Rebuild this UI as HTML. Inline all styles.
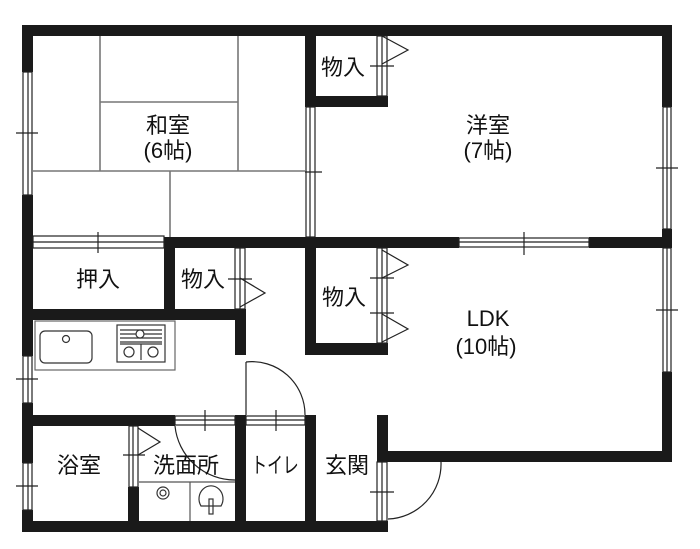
<!DOCTYPE html>
<html><head><meta charset="utf-8"><style>
html,body{margin:0;padding:0;background:#fff;}
svg{display:block;}
text{font-family:"Liberation Sans","Noto Sans CJK JP",sans-serif;fill:#111;}
</style></head><body>
<svg width="700" height="549" viewBox="0 0 700 549" xmlns="http://www.w3.org/2000/svg">
<rect width="700" height="549" fill="#fff"/>
<!-- tatami lines -->
<g stroke="#777" stroke-width="1.6" fill="none">
<line x1="100" y1="36" x2="100" y2="171"/>
<line x1="238" y1="36" x2="238" y2="171"/>
<line x1="100" y1="102" x2="238" y2="102"/>
<line x1="33" y1="171" x2="305" y2="171"/>
<line x1="170" y1="171" x2="170" y2="237"/>
</g>
<!-- walls -->
<g fill="#1a1a1a">
<rect x="22" y="25" width="650" height="11"/>
<rect x="22" y="25" width="11" height="47"/>
<rect x="22" y="195" width="11" height="161"/>
<rect x="22" y="403" width="11" height="60"/>
<rect x="22" y="510" width="11" height="22"/>
<rect x="22" y="521" width="366" height="11"/>
<rect x="662" y="25" width="10" height="82"/>
<rect x="662" y="229" width="10" height="19"/>
<rect x="662" y="372" width="10" height="90"/>
<rect x="377" y="451" width="295" height="11"/>
<rect x="377" y="415" width="11" height="47"/>
<rect x="305" y="25" width="11" height="82"/>
<rect x="305" y="96" width="83" height="11"/>
<rect x="164" y="237" width="295" height="11"/>
<rect x="589" y="237" width="83" height="11"/>
<rect x="164" y="237" width="11" height="83"/>
<rect x="33" y="309" width="212" height="11"/>
<rect x="235" y="309" width="11" height="46"/>
<rect x="305" y="248" width="11" height="107"/>
<rect x="305" y="343" width="83" height="12"/>
<rect x="22" y="415" width="153" height="11"/>
<rect x="235" y="415" width="11" height="117"/>
<rect x="305" y="415" width="11" height="117"/>
<rect x="128" y="487" width="11" height="45"/>
</g>
<!-- windows / sliding doors (thin double lines) -->
<g stroke="#222" stroke-width="1.2" fill="none">
<rect x="23" y="72" width="9" height="123"/><line x1="28" y1="72" x2="28" y2="195"/><line x1="16" y1="133" x2="38" y2="133"/>
<rect x="23" y="356" width="9" height="47"/><line x1="28" y1="356" x2="28" y2="403"/><line x1="16" y1="379" x2="38" y2="379"/>
<rect x="23" y="463" width="9" height="47"/><line x1="28" y1="463" x2="28" y2="510"/><line x1="16" y1="486" x2="38" y2="486"/>
<rect x="663" y="107" width="8" height="122"/><line x1="667" y1="107" x2="667" y2="229"/><line x1="656" y1="168" x2="678" y2="168"/>
<rect x="663" y="248" width="8" height="124"/><line x1="667" y1="248" x2="667" y2="372"/><line x1="656" y1="310" x2="678" y2="310"/>
<rect x="459" y="238" width="130" height="9"/><line x1="459" y1="242" x2="589" y2="242"/><line x1="524" y1="232" x2="524" y2="255"/>
<rect x="306" y="107" width="9" height="130"/><line x1="310" y1="107" x2="310" y2="237"/><line x1="305" y1="172" x2="322" y2="172"/>
<rect x="33" y="236" width="131" height="12"/><line x1="33" y1="242" x2="164" y2="242"/><line x1="98" y1="232" x2="98" y2="253"/>
<rect x="377" y="36" width="10" height="60"/><line x1="382" y1="36" x2="382" y2="96"/><line x1="370" y1="66" x2="394" y2="66"/>
<polyline points="382,36 408,50 382,64"/>
<rect x="235" y="248" width="10" height="61"/><line x1="240" y1="248" x2="240" y2="309"/><line x1="228" y1="279" x2="252" y2="279"/>
<polyline points="240,278 265,293 240,307"/>
<rect x="377" y="248" width="10" height="95"/><line x1="382" y1="248" x2="382" y2="343"/>
<line x1="370" y1="278" x2="394" y2="278"/><line x1="370" y1="313" x2="394" y2="313"/>
<polyline points="382,250 408,265 382,278"/><polyline points="382,314 408,329 382,342"/>
<rect x="175" y="416" width="60" height="9"/><line x1="175" y1="420" x2="235" y2="420"/><line x1="205" y1="410" x2="205" y2="431"/>
<rect x="246" y="416" width="59" height="9"/><line x1="246" y1="420" x2="305" y2="420"/><line x1="276" y1="410" x2="276" y2="431"/>
<rect x="129" y="426" width="9" height="61"/><line x1="133" y1="426" x2="133" y2="487"/><line x1="123" y1="455" x2="145" y2="455"/>
<polyline points="138,428 160,442 138,455"/>
<rect x="377" y="462" width="10" height="59"/><line x1="382" y1="462" x2="382" y2="521"/><line x1="370" y1="492" x2="394" y2="492"/>
<path d="M246,362 A53,53 0 0 1 305,415"/><line x1="246" y1="362" x2="246" y2="415"/>
<path d="M175,426 A60,60 0 0 0 235,480"/>
<path d="M388,519 A55,55 0 0 0 441,462"/>
</g>
<!-- kitchen -->
<g stroke="#333" stroke-width="1.2" fill="none">
<rect x="35" y="321" width="140" height="49" stroke="#666"/>
<rect x="40" y="331" width="52" height="32" rx="5"/>
<circle cx="66" cy="339" r="3.5"/>
<rect x="117" y="325" width="48" height="37"/>
<line x1="120" y1="330" x2="162" y2="330"/><line x1="120" y1="334" x2="162" y2="334"/><line x1="120" y1="338" x2="162" y2="338"/><line x1="120" y1="342" x2="162" y2="342"/>
<circle cx="140" cy="334" r="4" fill="#fff"/>
<line x1="120" y1="344" x2="162" y2="344"/><line x1="141" y1="344" x2="141" y2="360"/>
<circle cx="129" cy="352" r="5"/><circle cx="153" cy="352" r="5"/>
<line x1="139" y1="482" x2="235" y2="482" stroke="#555"/>
<line x1="190" y1="482" x2="190" y2="521" stroke="#555"/>
<circle cx="163" cy="493" r="6"/><circle cx="163" cy="493" r="3"/>
<path d="M201,506 A12,13 0 1 1 221,506 Z"/>
<rect x="209" y="499" width="4" height="15"/>
</g>
<!-- labels -->
<g font-size="22" text-anchor="middle">
<text x="168" y="133">和室</text><text x="168" y="158">(6帖)</text>
<text x="488" y="133">洋室</text><text x="488" y="158">(7帖)</text>
<text x="343" y="75">物入</text>
<text x="98" y="287">押入</text>
<text x="203" y="287">物入</text>
<text x="344" y="305">物入</text>
<text x="488" y="326">LDK</text><text x="486" y="354">(10帖)</text>
<text x="79" y="473">浴室</text>
<text x="186" y="473">洗面所</text>
<text x="275" y="473" transform="translate(275,0) scale(0.72,1) translate(-275,0)">トイレ</text>
<text x="347" y="473">玄関</text>
</g>
</svg>
</body></html>
